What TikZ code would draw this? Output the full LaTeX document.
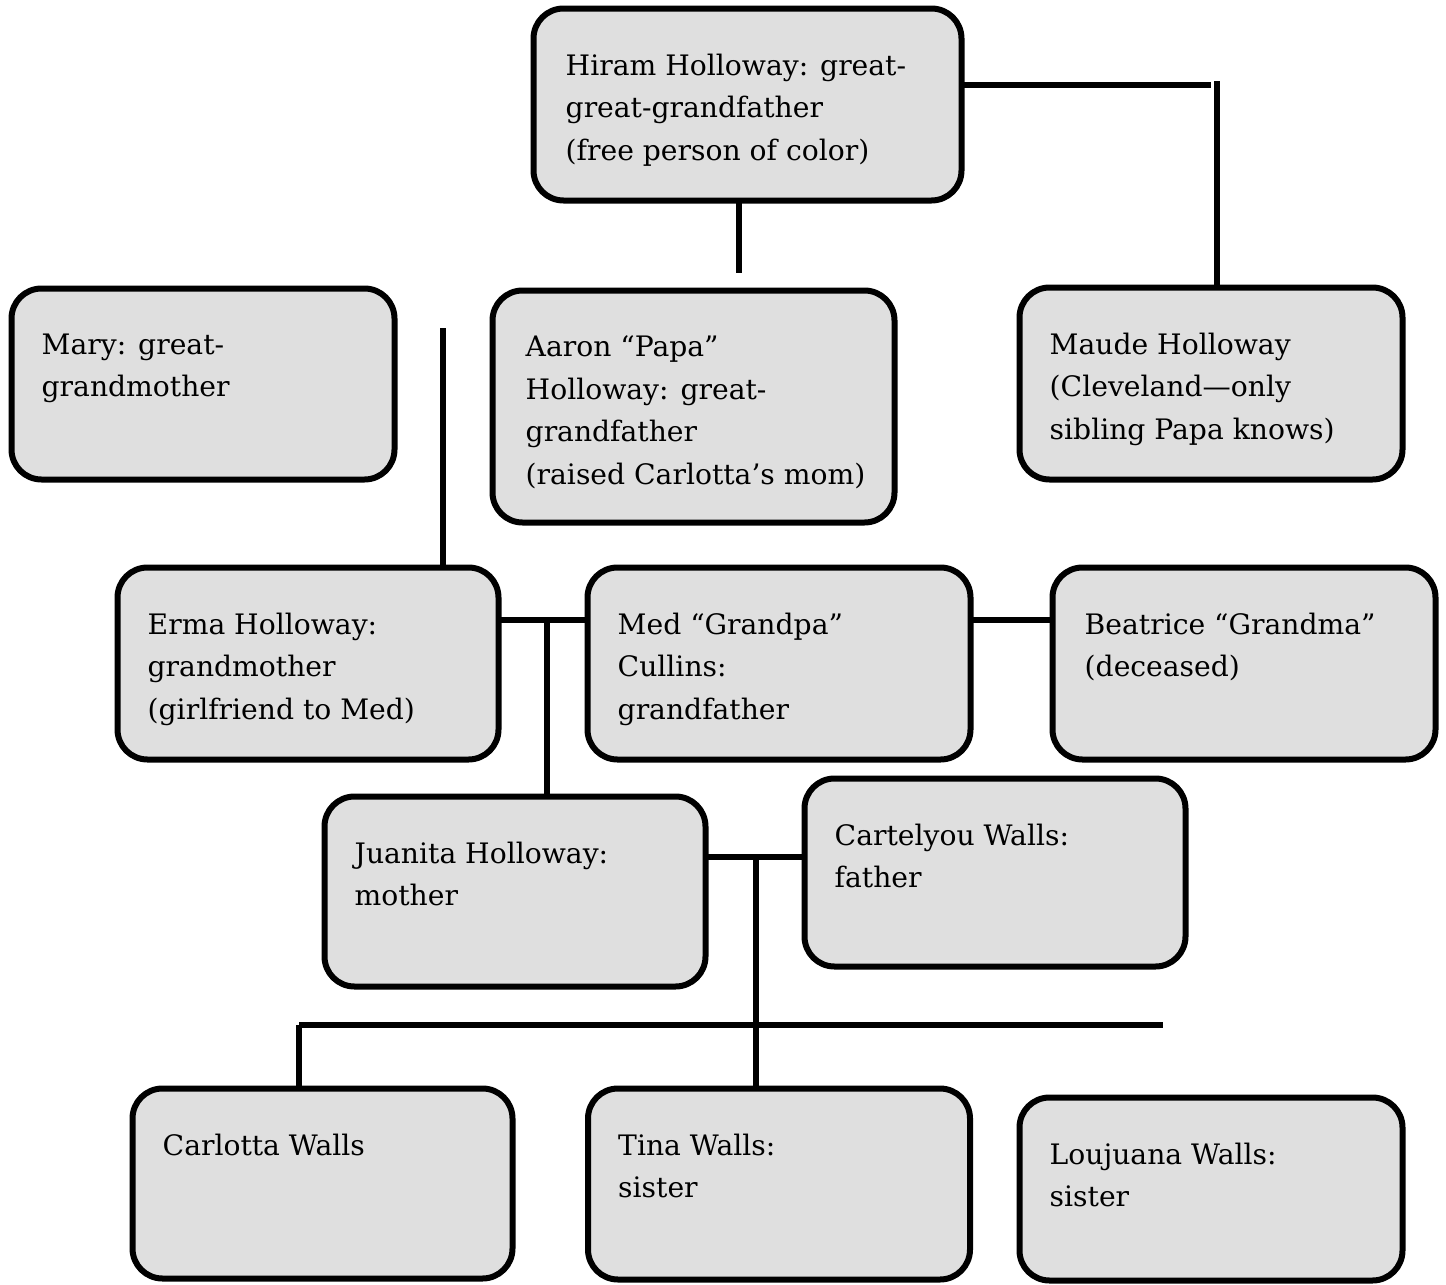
\documentclass[tikz,border=0pt]{standalone}
\usepackage{fontspec}
\setmainfont{DejaVu Serif}
\usepackage{xcolor}
\usepackage{tikz}
\usetikzlibrary{positioning,calc}
\definecolor{boxgray}{RGB}{223,223,223}

\begin{document}
\begin{tikzpicture}[x=1pt, y=-1pt,
    famBox/.style={draw, line width=6pt, rounded corners=30pt, fill=boxgray, inner sep=0pt, outer sep=0pt},
    famText/.style={anchor=north west, align=left, inner sep=0pt, font=\fontsize{28.2}{42.5}\selectfont},
    famLine/.style={line width=6pt}]
    \useasboundingbox (0,0) rectangle (1446,1285);

    % Boxes
    \node[famBox, minimum width=428, minimum height=192] (hiram) at (747.5,104.5) {};
    \node[famBox, minimum width=383, minimum height=191] (mary) at (203,384) {};
    \node[famBox, minimum width=402, minimum height=232] (aaron) at (693.5,406.5) {};
    \node[famBox, minimum width=383, minimum height=192] (maude) at (1211,383.5) {};
    \node[famBox, minimum width=381, minimum height=192] (erma) at (308,663.5) {};
    \node[famBox, minimum width=383, minimum height=192] (med) at (779,663.5) {};
    \node[famBox, minimum width=383, minimum height=192] (beatrice) at (1244,663.5) {};
    \node[famBox, minimum width=381, minimum height=190] (juanita) at (515,891.5) {};
    \node[famBox, minimum width=381, minimum height=188] (cartelyou) at (995,872.5) {};
    \node[famBox, minimum width=380, minimum height=190] (carlotta) at (322.5,1183.5) {};
    \node[famBox, minimum width=382, minimum height=191] (tina) at (779,1184) {};
    \node[famBox, minimum width=383, minimum height=183] (loujuana) at (1211,1189) {};

    % Box texts
    \node[famText] (hiramTxt) at ($(hiram.north west)+(32,45)$) {Hiram Holloway: great-\\great-grandfather\\(free person of color)};
    \node[famText] (maryTxt) at ($(mary.north west)+(30,45)$) {Mary: great-\\grandmother};
    \node[famText] (aaronTxt) at ($(aaron.north west)+(33,45)$) {Aaron “Papa”\\Holloway: great-\\grandfather\\(raised Carlotta’s mom)};
    \node[famText] (maudeTxt) at ($(maude.north west)+(30,45)$) {Maude Holloway\\(Cleveland—only\\sibling Papa knows)};
    \node[famText] (ermaTxt) at ($(erma.north west)+(30,45)$) {Erma Holloway:\\grandmother\\(girlfriend to Med)};
    \node[famText] (medTxt) at ($(med.north west)+(30,45)$) {Med “Grandpa”\\Cullins:\\grandfather};
    \node[famText] (beatriceTxt) at ($(beatrice.north west)+(32,45)$) {Beatrice “Grandma”\\(deceased)};
    \node[famText] (juanitaTxt) at ($(juanita.north west)+(30,45)$) {Juanita Holloway:\\mother};
    \node[famText] (cartelyouTxt) at ($(cartelyou.north west)+(30,45)$) {Cartelyou Walls:\\father};
    \node[famText] (carlottaTxt) at ($(carlotta.north west)+(30,45)$) {Carlotta Walls};
    \node[famText] (tinaTxt) at ($(tina.north west)+(30,45)$) {Tina Walls:\\sister};
    \node[famText] (loujuanaTxt) at ($(loujuana.north west)+(30,45)$) {Loujuana Walls:\\sister};

    % Line ends and joints
    \coordinate (hmR) at (1211,85);
    \coordinate (hmT) at (1217,81);
    \coordinate (haEnd) at (739,273);
    \coordinate (ermaTop) at (443,328);
    \coordinate (emJoin) at (547,620);
    \coordinate (jcJoin) at (756,857);
    \coordinate (sibL) at (299,1025);
    \coordinate (sibR) at (1163,1025);

    % Connectors
    \draw[famLine] (hiram.east |- hmR) -- (hmR);
    \draw[famLine] (hmT) -- (maude.north -| hmT);
    \draw[famLine] (hiram.south -| haEnd) -- (haEnd);
    \draw[famLine] (ermaTop) -- (erma.north -| ermaTop);
    \draw[famLine] (erma.east |- emJoin) -- (med.west |- emJoin);
    \draw[famLine] (emJoin) -- (juanita.north -| emJoin);
    \draw[famLine] (med.east |- emJoin) -- (beatrice.west |- emJoin);
    \draw[famLine] (juanita.east |- jcJoin) -- (cartelyou.west |- jcJoin);
    \draw[famLine] (jcJoin) -- (tina.north -| jcJoin);
    \draw[famLine] (sibL) -- (sibR);
    \draw[famLine] (sibL) -- (carlotta.north -| sibL);
\end{tikzpicture}
\end{document}
